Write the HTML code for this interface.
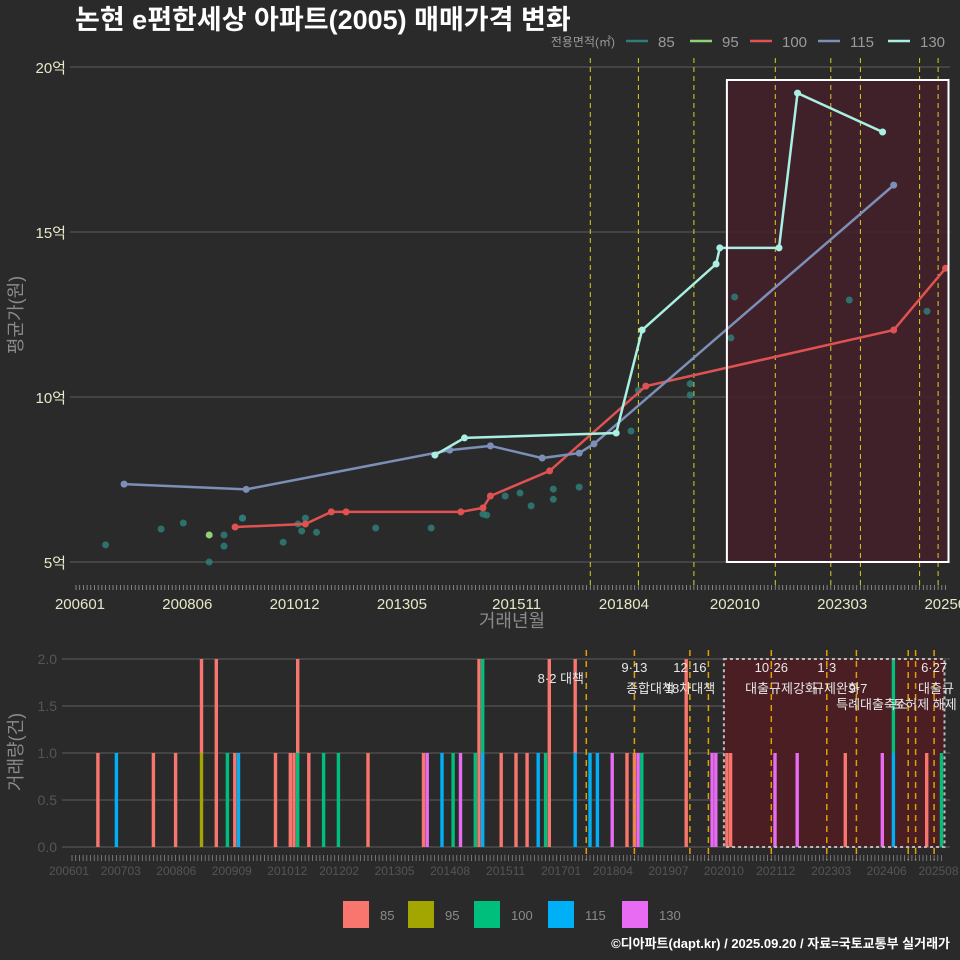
<!DOCTYPE html>
<html><head><meta charset="utf-8"><style>
body{margin:0;background:#2a2a2b;}
svg{display:block;font-family:"Liberation Sans","Noto Sans CJK KR",sans-serif;}
</style></head><body>
<svg id="c" width="960" height="960" viewBox="0 0 960 960" xmlns="http://www.w3.org/2000/svg">
<rect width="960" height="960" fill="#2a2a2b"/>
<text x="75" y="29" fill="#fff" font-size="27" font-weight="bold">논현 e편한세상 아파트(2005) 매매가격 변화</text>
<g id="topPanel"></g>
<g id="botPanel"></g>
<text x="950" y="948" fill="#fff" font-size="13" font-weight="bold" text-anchor="end">©디아파트(dapt.kr) / 2025.09.20 / 자료=국토교통부 실거래가</text>
</svg>
<script>
// ---- data ----
const areas = ["85","95","100","115","130"];
const lineColors = ["#2e7d78","#8fd175","#e05252","#7c8fb6","#a9efe2"];
const barColors = ["#f8766d","#a3a500","#00bf7d","#00b0f6","#e76bf3"];
const topYTicks = [5,10,15,20];
const topXTickMonths = [0,29,58,87,118,147,177,206,235];
const topXTickLabels = ["200601","200806","201012","201305","201511","201804","202010","202303","202508"];
const botXTickMonths = [0,14,29,44,59,73,88,103,118,133,147,162,177,191,206,221,235];
const botXTickLabels = ["200601","200703","200806","200909","201012","201202","201305","201408","201511","201701","201804","201907","202010","202112","202303","202406","202508"];
const botYTicks = [0,0.5,1,1.5,2];
const s85 = [[8,5.52],[23,6.0],[29,6.18],[36,5.0],[40,5.48],[40,5.82],[45,6.33],[45,6.33],[56,5.6],[60,6.15],[61,5.94],[62,6.33],[65,5.9],[81,6.03],[96,6.03],[110,6.45],[111,6.42],[116,7.0],[120,7.09],[123,6.7],[129,7.21],[129,6.9],[136,7.27],[150,8.97],[152,10.2],[166,10.06],[166,10.4],[177,11.79],[178,13.03],[209,12.94],[230,12.6]];
const s95 = [[36,5.82]];
const s100 = [[43,6.06],[62,6.15],[69,6.52],[73,6.52],[104,6.52],[110,6.64],[112,7.0],[128,7.76],[154,10.33],[221,12.03],[235,13.9]];
const s115 = [[13,7.36],[46,7.2],[101,8.39],[112,8.52],[126,8.15],[136,8.3],[140,8.58],[221,16.42]];
const s130 = [[97,8.24],[105,8.76],[146,8.91],[153,12.03],[173,14.03],[174,14.52],[190,14.52],[195,19.21],[218,18.03]];
const volMonths = [7,12,22,28,35,35,39,42,44,45,55,59,60,61,61,64,68,72,80,95,96,100,103,105,109,110,111,111,116,120,123,126,128,129,136,136,140,142,146,150,152,153,154,166,173,174,177,178,190,196,209,219,222,222,231,235];
const volAreas  = [0,3,0,0,1,0,0,2,0,3,0,0,0,2,0,0,2,2,0,0,4,3,2,4,2,0,3,2,0,0,0,3,2,0,3,0,3,3,4,0,0,4,2,0,4,4,0,0,4,4,0,4,3,2,0,2];
const volCounts = [1,1,1,1,1,1,2,1,1,1,1,1,1,1,1,1,1,1,1,1,1,1,1,1,1,2,1,1,1,1,1,1,1,2,1,1,1,1,1,1,1,1,1,2,1,1,1,1,1,1,1,1,1,1,1,1];
const policyMonths = [139,152,167,189,204,212,228,233];
const policyTop = ["8·2","9·13","12·16","10·26","1·3","9·7","","6·27"];

// ---- scales ----
const NS="http://www.w3.org/2000/svg";
const xT = m => 76 + 3.70*m;
const yT = v => 562 - (v-5)*33;
const xB = m => 72 + 3.70*m;
const yB = c => 847 - c*94;
function mk(parent, tag, attrs, text){const e=document.createElementNS(NS,tag);for(const k in attrs)e.setAttribute(k,attrs[k]);if(text!==undefined)e.textContent=text;parent.appendChild(e);return e;}
const topG=document.getElementById('topPanel'), botG=document.getElementById('botPanel');
const boxL=xT(177)-4, boxR=xT(235)+3;

// ---- top panel ----
topYTicks.forEach(v=>{
  const l=mk(topG,'line',{x1:70,x2:950,y1:yT(v),y2:yT(v),stroke:'#5e5e5e','stroke-width':1});
  
  
  const t=mk(topG,'text',{x:66,y:yT(v)+6,fill:'#e8e8c8','font-size':15,'text-anchor':'end'},v+'억');
  
  
});
const box=mk(topG,'rect',{x:boxL,y:80,width:boxR-boxL,height:482,fill:'#42202a','fill-opacity':0.9,stroke:'none'});


policyMonths.forEach(m=>{
  const l=mk(topG,'line',{x1:xT(m),x2:xT(m),y1:58,y2:588,stroke:'#d8d020','stroke-width':1,'stroke-dasharray':'5,4'});
  
  
});
for(let m=0;m<=235;m++){
  const l=mk(topG,'line',{x1:xT(m),x2:xT(m),y1:585,y2:590,stroke:'#999','stroke-width':0.8});
  
  
}
topXTickMonths.forEach((m,i)=>{
  const t=mk(topG,'text',{x:xT(m)+4,y:609,fill:'#e8e8c8','font-size':15,'text-anchor':'middle'},topXTickLabels[i]);
  
  
});
const series=[s85,s95,s100,s115,s130];
series.forEach((s,i)=>{
  if(i>=2){
    const p=mk(topG,'polyline',{points:s.map(d=>xT(d[0])+','+yT(d[1])).join(' '),fill:'none',stroke:lineColors[i],'stroke-width':2.5});
    
    
  }
  s.forEach(d=>{
    const c=mk(topG,'circle',{cx:xT(d[0]),cy:yT(d[1]),r:3.5,fill:lineColors[i],'fill-opacity':i==0?0.85:1});
    
    
  });
});
const br=mk(topG,'rect',{x:boxL,y:80,width:boxR-boxL,height:482,fill:'none',stroke:'#fff','stroke-width':2});


const yl=mk(topG,'text',{x:0,y:0,fill:'#8a8a8a','font-size':18,'text-anchor':'middle',transform:'translate(22,315) rotate(-90)'},'평균가(원)');


const xl=mk(topG,'text',{x:512,y:627,fill:'#8a8a8a','font-size':18,'text-anchor':'middle'},'거래년월');


const lt=mk(topG,'text',{x:615,y:46,fill:'#9a9a9a','font-size':12,'text-anchor':'end'},'전용면적(㎡)');


const legX=[626,690,750,818,888];
areas.forEach((a,i)=>{
  const l=mk(topG,'line',{x1:legX[i],x2:legX[i]+22,y1:41,y2:41,stroke:lineColors[i],'stroke-width':2.5});
  
  
  const t=mk(topG,'text',{x:legX[i]+32,y:47,fill:'#9a9a9a','font-size':15},a);
  
  
});

// ---- bottom panel ----
botYTicks.forEach(v=>{
  const l=mk(botG,'line',{x1:62,x2:950,y1:yB(v),y2:yB(v),stroke:'#5e5e5e','stroke-width':1});
  
  
  const t=mk(botG,'text',{x:57,y:yB(v)+5,fill:'#555','font-size':14,'text-anchor':'end'},v.toFixed(1));
  
  
});
const bb=mk(botG,'rect',{x:xB(177)-3,y:659,width:xB(235)+3-(xB(177)-3),height:188,fill:'#4a1e22'});


const stack={};
volMonths.forEach((m,i)=>{
  const base=stack[m]||0, c=volCounts[i];
  const r=mk(botG,'rect',{x:xB(m)-1.7,y:yB(base+c),width:3.4,height:c*94,fill:barColors[volAreas[i]]});
  
  
  stack[m]=base+c;
});
const bbr=mk(botG,'rect',{x:xB(177)-3,y:659,width:xB(235)+3-(xB(177)-3),height:188,fill:'none',stroke:'#bbb','stroke-width':2,'stroke-dasharray':'3,3'});


const extraDash=[172,226];
policyMonths.concat(extraDash).forEach(m=>{
  const l=mk(botG,'line',{x1:xB(m),x2:xB(m),y1:650,y2:860,stroke:'#e0a000','stroke-width':1.5,'stroke-dasharray':'6,5'});
  
  
});
policyMonths.forEach((m,i)=>{
  if(policyTop[i]&&i!==0&&i!==5){
    const t=mk(botG,'text',{x:xB(m),y:672,fill:'#e8e8e8','font-size':13,'text-anchor':'middle'},policyTop[i]);
    
    
  }
});
const annot=[[584,683,'8·2 대책','end'],[650,693,'종합대책','middle'],[690,693,'18차대책','middle'],[781,693,'대출규제강화','middle'],[836,693,'규제완화','middle'],[858,693,'9·7','middle'],[872,709,'특례대출축소','middle'],[925,709,'토허제 해제','middle'],[936,693,'대출규','middle']];
annot.forEach(a=>{
  const t=mk(botG,'text',{x:a[0],y:a[1],fill:'#e8e8e8','font-size':13,'text-anchor':a[3]},a[2]);
  
  
});
for(let m=0;m<=235;m++){
  const l=mk(botG,'line',{x1:xB(m),x2:xB(m),y1:855,y2:861,stroke:'#888','stroke-width':0.8});
  
  
}
botXTickMonths.forEach((m,i)=>{
  const t=mk(botG,'text',{x:xB(m)-3,y:875,fill:'#555','font-size':12,'text-anchor':'middle'},botXTickLabels[i]);
  
  
});
const byl=mk(botG,'text',{x:0,y:0,fill:'#8a8a8a','font-size':18,'text-anchor':'middle',transform:'translate(22,752) rotate(-90)'},'거래량(건)');


const sqX=[343,408,474,548,622];
areas.forEach((a,i)=>{
  const r=mk(botG,'rect',{x:sqX[i],y:901,width:26,height:27,fill:barColors[i]});
  
  
  const t=mk(botG,'text',{x:sqX[i]+37,y:920,fill:'#8a8a8a','font-size':13},a);
  
  
});
</script>
</body></html>
